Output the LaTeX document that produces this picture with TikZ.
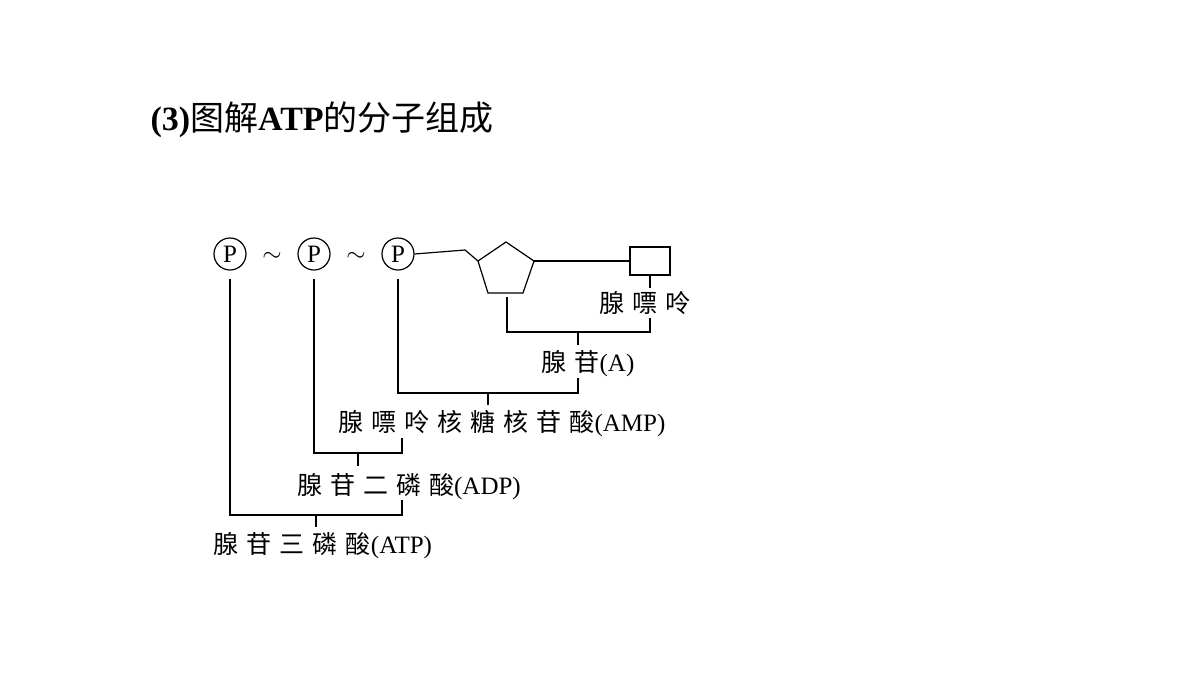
\documentclass[tikz,border=0pt]{standalone}
\usepackage{fontspec}
\setmainfont{Liberation Serif}
\newfontfamily\cjk{Noto Sans CJK SC}
\newfontfamily\cjks[LetterSpace=32]{Noto Sans CJK SC}
\begin{document}
\begin{tikzpicture}[x=1pt,y=-1pt,line width=1.2pt,
  lab/.style={font=\fontsize{25}{27}\selectfont,inner sep=0pt},
  pc/.style={circle,draw,minimum size=32pt,inner sep=0pt,font=\fontsize{25}{27}\selectfont}]
\useasboundingbox (0,0) rectangle (1200,675);
\node[anchor=west,inner sep=0pt,font=\fontsize{34}{36}\selectfont\bfseries] (t) at (150,120) {(3){\cjk\mdseries 图解}ATP{\cjk\mdseries 的分子组成}};
\node[pc] (p1) at (230,254) {P};
\node[pc] (p2) at (314,254) {P};
\node[pc] (p3) at (398,254) {P};
\node[lab] (t1) at (272,257) {$\sim$};
\node[lab] (t2) at (356,257) {$\sim$};
\coordinate (vt) at (506,242); \coordinate (vl) at (478,261); \coordinate (vr) at (534,261);
\coordinate (vbl) at (488,293); \coordinate (vbr) at (523,293);
\draw (vt)--(vr)--(vbr)--(vbl)--(vl)--cycle;
\coordinate (k) at (465,250);
\draw (p3.east)--(k)--(vl);
\node[draw,minimum width=40pt,minimum height=28pt,inner sep=0pt] (b) at (650,261) {};
\draw (vr)--(b.west);
\node[lab] (ad) at (645,303) {\cjks 腺嘌呤};
\draw (b.south)--(650,288);
\draw (507,297)--(507,332)--(650,332)--(650,318);
\draw (578,332)--(578,345);
\node[lab] (a) at (588,364) {{\cjks 腺苷}(A)};
\draw (398,279)--(398,393)--(578,393)--(578,378);
\draw (488,393)--(488,405);
\node[lab] (amp) at (502,424) {{\cjks 腺嘌呤核糖核苷酸}(AMP)};
\draw (314,279)--(314,453)--(402,453)--(402,438);
\draw (358,453)--(358,466);
\node[lab] (adp) at (409,487) {{\cjks 腺苷二磷酸}(ADP)};
\draw (230,279)--(230,515)--(402,515)--(402,500);
\draw (316,515)--(316,527);
\node[lab] (atp) at (323,546) {{\cjks 腺苷三磷酸}(ATP)};
\end{tikzpicture}
\end{document}
